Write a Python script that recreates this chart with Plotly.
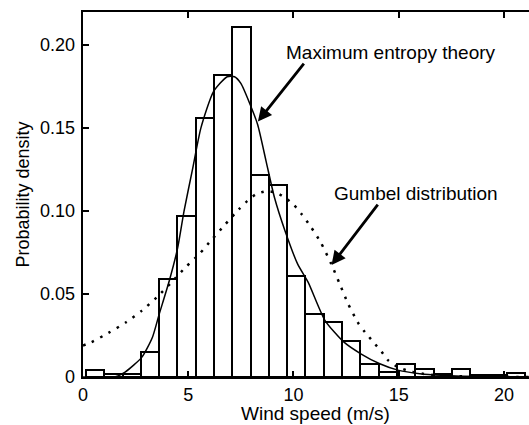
import plotly.graph_objects as go

# Histogram (probability density), 24 equal bins
bin_start = 0.143
bin_width = 0.869
hist_density = [0.004, 0.002, 0.002, 0.015, 0.059, 0.097, 0.156, 0.182, 0.211,
                0.122, 0.116, 0.061, 0.038, 0.033, 0.022, 0.008, 0.003, 0.008,
                0.005, 0.002, 0.005, 0.001, 0.001, 0.0025]

# Maximum entropy theory curve
me_x = [0.0, 1.5, 2.0, 2.8, 3.3, 3.6, 4.1, 4.5, 4.8, 5.2, 5.6, 6.2, 6.85, 7.2, 7.5,
        7.95, 8.3, 8.7, 9.1, 9.6, 10.2, 10.7, 11.5, 12.4, 13.2, 14.1, 15.0, 16.0,
        17.0, 18.0, 21.2]
me_y = [0.0, 0.0, 0.003, 0.012, 0.024, 0.037, 0.058, 0.078, 0.100, 0.125, 0.150,
        0.172, 0.181, 0.181, 0.177, 0.164, 0.152, 0.130, 0.108, 0.088, 0.068,
        0.057, 0.034, 0.021, 0.014, 0.008, 0.004, 0.002, 0.001, 0.0005, 0.0]

# Gumbel distribution curve
gb_x = [0.0, 0.4, 1.2, 2.05, 2.8, 3.5, 4.2, 4.86, 5.52, 6.13, 6.76, 7.4, 7.8, 8.2,
        8.7, 9.2, 9.6, 10.0, 10.4, 10.8, 11.3, 11.8, 12.2, 12.6, 13.1, 13.4, 13.8,
        14.2, 14.5, 14.95, 15.4, 15.9, 17.0, 19.0, 21.2]
gb_y = [0.019, 0.021, 0.0265, 0.033, 0.040, 0.048, 0.057, 0.066, 0.074, 0.083,
        0.092, 0.101, 0.106, 0.110, 0.112, 0.111, 0.108, 0.104, 0.098, 0.091,
        0.081, 0.068, 0.056, 0.044, 0.032, 0.027, 0.021, 0.015, 0.010, 0.006,
        0.004, 0.0024, 0.0008, 0.0002, 0.0]

x_ticks = [0, 5, 10, 15, 20]
y_ticks = [0, 0.05, 0.10, 0.15, 0.20]
y_ticktext = ["0", "0.05", "0.10", "0.15", "0.20"]

centers = [bin_start + bin_width * (k + 0.5) for k in range(len(hist_density))]

FONT = "Liberation Sans, Arial, sans-serif"

fig = go.Figure()
fig.add_trace(go.Bar(x=centers, y=hist_density, width=bin_width,
                     marker=dict(color="rgba(0,0,0,0)",
                                 line=dict(color="black", width=2)),
                     showlegend=False))
fig.add_trace(go.Scatter(x=me_x, y=me_y, mode="lines",
                         line=dict(color="black", width=1.5, shape="spline",
                                   smoothing=0.6),
                         showlegend=False))
fig.add_trace(go.Scatter(x=gb_x, y=gb_y, mode="lines",
                         line=dict(color="black", width=2.5, dash="2.5px,7px",
                                   shape="spline", smoothing=0.6),
                         showlegend=False))

xr = [0, 21.19]
yr = [0, 0.22]

annotations = [
    dict(x=8.31, y=0.154, ax=10.55, ay=0.1898, xref="x", yref="y",
         axref="x", ayref="y", text="", showarrow=True, arrowhead=2,
         arrowsize=1, arrowwidth=2.8, arrowcolor="black"),
    dict(x=11.81, y=0.0675, ax=14.06, ay=0.1048, xref="x", yref="y",
         axref="x", ayref="y", text="", showarrow=True, arrowhead=2,
         arrowsize=1, arrowwidth=2.8, arrowcolor="black"),
    dict(x=14.63, y=0.1958, xref="x", yref="y", text="Maximum entropy theory",
         showarrow=False, xanchor="center", yanchor="middle",
         font=dict(size=19)),
    dict(x=15.82, y=0.1108, xref="x", yref="y", text="Gumbel distribution",
         showarrow=False, xanchor="center", yanchor="middle",
         font=dict(size=19)),
    dict(x=(315 - 83) / 446, y=-(413 - 377) / 365, xref="paper", yref="paper",
         text="Wind speed (m/s)", showarrow=False, xanchor="center",
         yanchor="middle", font=dict(size=19)),
    dict(x=(22 - 83) / 446, y=0.5, xref="paper", yref="paper",
         text="Probability density", textangle=-90, showarrow=False,
         xanchor="center", yanchor="middle", font=dict(size=18)),
]
# y tick labels placed close to the axis (as in the reference)
for v, t in zip(y_ticks, y_ticktext):
    annotations.append(dict(x=(77 - 83) / 446, y=v, xref="paper", yref="y",
                            text=t, showarrow=False, xanchor="right",
                            yanchor="middle", font=dict(size=18)))

fig.update_layout(
    width=529, height=425,
    margin=dict(l=83, r=0, t=12, b=48),
    paper_bgcolor="white", plot_bgcolor="white",
    font=dict(family=FONT, size=18, color="black"),
    bargap=0,
    xaxis=dict(range=xr, tickvals=x_ticks, ticks="inside", ticklen=6,
               tickwidth=1.5, tickcolor="black", showline=True, linewidth=2,
               linecolor="black", mirror="ticks", showgrid=False,
               zeroline=False, tickfont=dict(size=18)),
    yaxis=dict(range=yr, tickvals=y_ticks, ticks="inside",
               ticklen=6, tickwidth=1.5, tickcolor="black", showline=True,
               linewidth=2, linecolor="black", showgrid=False, zeroline=False,
               showticklabels=False),
    yaxis2=dict(range=yr, tickvals=y_ticks, ticks="inside", ticklen=6,
                tickwidth=1.5, tickcolor="black", showline=False,
                showticklabels=False, showgrid=False, zeroline=False,
                overlaying="y", side="right"),
    annotations=annotations,
)

fig.write_html("out.html")
